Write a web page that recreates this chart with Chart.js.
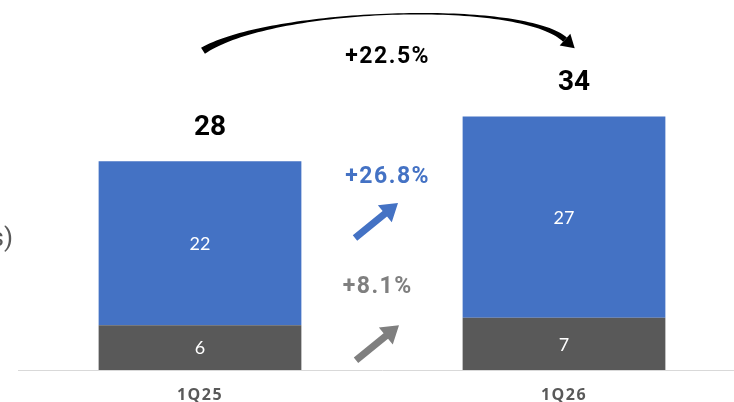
<!DOCTYPE html>
<html>
<head>
<meta charset="utf-8">
<script src="https://cdn.jsdelivr.net/npm/chart.js@4/dist/chart.umd.min.js"></script>
<style>
  html, body { margin: 0; padding: 0; background: #fff; overflow: hidden; }
  canvas { display: block; }
</style>
</head>
<body>
<!-- canvas is a bit wider than the window: the right end is cut off like in the original -->
<canvas id="myChart" width="746" height="402"></canvas>
<script>
const quarters = ["1Q25", "1Q26"];
const grayValues = [6, 7];
const blueValues = [22, 27];
const totalGrowth = "+22.5%";
const blueGrowth = "+26.8%";
const grayGrowth = "+8.1%";
const axisTitle = "(US$ billions)";

const BLUE = "#4472C4";
const DARK = "#595959";
const GRAY = "#7f7f7f";

// straight fat arrow from (x1,y1) to tip (x2,y2)
function drawArrow(ctx, x1, y1, x2, y2, color) {
  const ang = Math.atan2(y2 - y1, x2 - x1);
  const len = Math.hypot(x2 - x1, y2 - y1);
  ctx.save();
  ctx.translate(x1, y1);
  ctx.rotate(ang);
  ctx.fillStyle = color;
  ctx.beginPath();
  ctx.moveTo(0, -3.5);
  ctx.lineTo(len - 17, -3.5);
  ctx.lineTo(len - 17, -11);
  ctx.lineTo(len, 0);
  ctx.lineTo(len - 17, 11);
  ctx.lineTo(len - 17, 3.5);
  ctx.lineTo(0, 3.5);
  ctx.closePath();
  ctx.fill();
  ctx.restore();
}

// curved arrow, thick at the ends and thin in the middle
function drawCurvedArrow(ctx, p0, c1, c2, p3) {
  const pts = [];
  const n = 80;
  for (let i = 0; i <= n; i++) {
    const t = i / n, u = 1 - t;
    const x = u * u * u * p0[0] + 3 * u * u * t * c1[0] + 3 * u * t * t * c2[0] + t * t * t * p3[0];
    const y = u * u * u * p0[1] + 3 * u * u * t * c1[1] + 3 * u * t * t * c2[1] + t * t * t * p3[1];
    const dx = 3 * u * u * (c1[0] - p0[0]) + 6 * u * t * (c2[0] - c1[0]) + 3 * t * t * (p3[0] - c2[0]);
    const dy = 3 * u * u * (c1[1] - p0[1]) + 6 * u * t * (c2[1] - c1[1]) + 3 * t * t * (p3[1] - c2[1]);
    const l = Math.hypot(dx, dy);
    const w = t < 0.5 ? 0.7 + 2.9 * Math.pow(1 - 2 * t, 2) : 0.7 + 2.2 * Math.pow(2 * t - 1, 2);
    pts.push({ x, y, nx: -dy / l, ny: dx / l, w });
  }
  ctx.save();
  ctx.fillStyle = "#000";
  ctx.beginPath();
  pts.forEach((p, i) => {
    const px = p.x + p.nx * p.w, py = p.y + p.ny * p.w;
    i ? ctx.lineTo(px, py) : ctx.moveTo(px, py);
  });
  for (let i = pts.length - 1; i >= 0; i--) {
    const p = pts[i];
    ctx.lineTo(p.x - p.nx * p.w, p.y - p.ny * p.w);
  }
  ctx.closePath();
  ctx.fill();
  // head
  const last = pts[pts.length - 1];
  const dx = last.ny, dy = -last.nx;
  ctx.beginPath();
  ctx.moveTo(last.x + last.nx * 8, last.y + last.ny * 8);
  ctx.lineTo(last.x + dx * 13, last.y + dy * 13);
  ctx.lineTo(last.x - last.nx * 8, last.y - last.ny * 8);
  ctx.closePath();
  ctx.fill();
  ctx.restore();
}

const annotations = {
  id: "annotations",
  beforeDraw(chart) {
    chart.ctx.letterSpacing = "1.5px";
  },
  afterDatasetsDraw(chart) {
    const ctx = chart.ctx;
    const y = chart.scales.y;
    const blueBars = chart.getDatasetMeta(1).data;
    ctx.save();
    ctx.letterSpacing = "0px";
    ctx.textAlign = "center";
    ctx.textBaseline = "middle";

    // values inside the bars
    ctx.fillStyle = "#fff";
    ctx.font = "18px Lato";
    chart.data.datasets.forEach((ds, i) => {
      chart.getDatasetMeta(i).data.forEach((bar, j) => {
        ctx.fillText(ds.data[j], bar.x, (bar.y + bar.base) / 2 + 1);
      });
    });

    // totals
    ctx.fillStyle = "#000";
    ctx.font = "bold 28px Roboto";
    blueBars.forEach((bar, j) => {
      ctx.fillText(grayValues[j] + blueValues[j], bar.x + 10, bar.y - 33);
    });

    const x0 = blueBars[0].x, x1 = blueBars[1].x;
    const mid = (x0 + x1) / 2;

    ctx.font = "bold 23px Roboto";
    ctx.letterSpacing = "1.5px";
    ctx.fillStyle = "#000";
    ctx.fillText(totalGrowth, mid + 5.7, y.getPixelForValue(41.9));
    ctx.fillStyle = BLUE;
    ctx.fillText(blueGrowth, mid + 5.7, y.getPixelForValue(25.8));
    ctx.fillStyle = GRAY;
    ctx.fillText(grayGrowth, mid - 4.3, y.getPixelForValue(11.1));
    ctx.letterSpacing = "0px";

    drawArrow(ctx, mid - 27, y.getPixelForValue(17.7), mid + 16, y.getPixelForValue(22.4), BLUE);
    drawArrow(ctx, mid - 26, y.getPixelForValue(1.3), mid + 17, y.getPixelForValue(6.0), GRAY);

    drawCurvedArrow(ctx,
      [x0 + 3, y.getPixelForValue(42.8)],
      [x0 + 70, y.getPixelForValue(48.5)],
      [x1 - 44, y.getPixelForValue(49.7)],
      [x1 + 1, y.getPixelForValue(44.3)]);

    // axis title (cut off at the left edge)
    ctx.textAlign = "right";
    ctx.fillStyle = DARK;
    ctx.font = "26px Roboto";
    ctx.fillText(axisTitle, chart.chartArea.left - 5, y.getPixelForValue(17.5));
    ctx.restore();
  },
};

const data = {
  labels: quarters,
  datasets: [
    { label: "Gray", data: grayValues, backgroundColor: DARK },
    { label: "Blue", data: blueValues, backgroundColor: BLUE },
  ],
};

const config = {
  type: "bar",
  data,
  options: {
    responsive: false,
    animation: false,
    devicePixelRatio: 1,
    layout: { padding: { left: 18, right: 0, top: 12, bottom: 0 } },
    datasets: { bar: { barPercentage: 1, categoryPercentage: 0.557 } },
    scales: {
      x: {
        stacked: true,
        grid: { display: false, drawTicks: false },
        border: { color: "#d9d9d9", width: 1 },
        ticks: {
          color: DARK,
          padding: 17,
          font: { family: "Open Sans", size: 16, weight: "bold", lineHeight: 1 },
        },
        afterFit(scale) {
          scale.height = 32;
        },
      },
      y: { stacked: true, display: false, min: 0, max: 48 },
    },
    plugins: { legend: { display: false }, tooltip: { enabled: false } },
  },
  plugins: [annotations],
};

new Chart(document.getElementById("myChart"), config);
</script>
</body>
</html>
